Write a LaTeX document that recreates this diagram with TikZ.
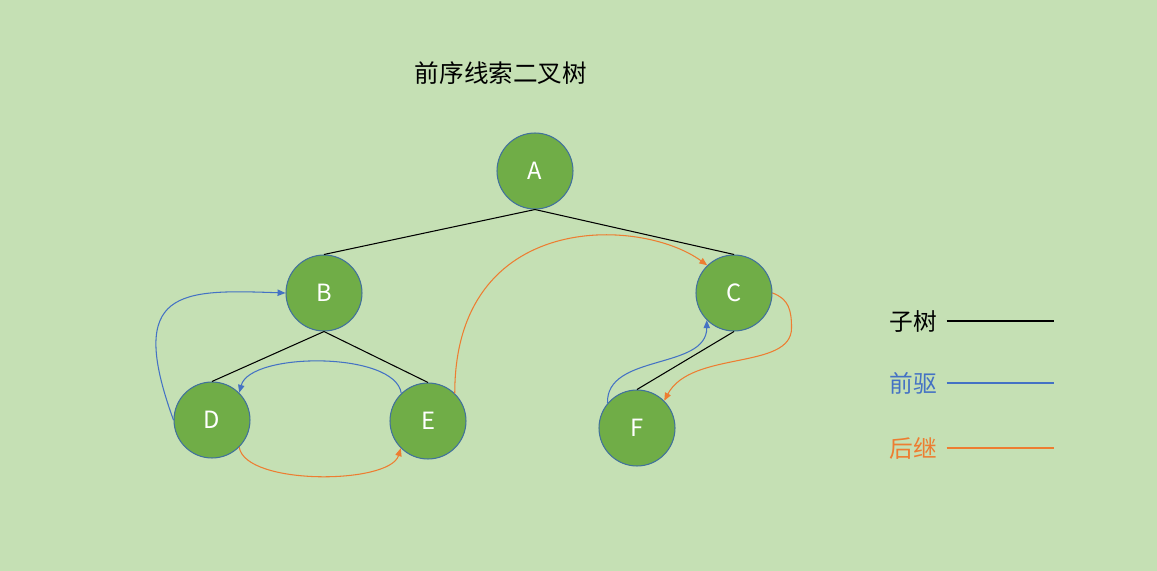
\documentclass[tikz,border=0pt]{standalone}
\usepackage{fontspec}
\newfontfamily\cjk{Noto Sans CJK SC}
\usepackage{xcolor}
\usepackage{tikz}
\usetikzlibrary{arrows.meta}
\definecolor{bggreen}{HTML}{C5E0B4}
\definecolor{nodegreen}{HTML}{70AD47}
\definecolor{nodeedge}{HTML}{41719C}
\definecolor{predblue}{HTML}{4472C4}
\definecolor{succorange}{HTML}{ED7D31}
\tikzset{
    treenode/.style={circle, draw=nodeedge, line width=0.6pt, fill=nodegreen, minimum size=1.52cm, inner sep=0pt, text=white, font=\cjk\fontsize{13.5}{16}\selectfont},
    subtree/.style={draw=black, line width=0.6pt},
    pred/.style={draw=predblue, line width=0.6pt, -{Triangle[length=4.5pt,width=3.6pt]}},
    succ/.style={draw=succorange, line width=0.6pt, -{Triangle[length=4.5pt,width=3.6pt]}},
    legendtext/.style={font=\cjk\fontsize{13.5}{16}\selectfont, inner xsep=5.5pt},
}

\begin{document}
\begin{tikzpicture}[x=0.02cm, y=-0.02cm]
    \fill[bggreen] (0,0) rectangle (1157,571);
    \useasboundingbox (0,0) rectangle (1157,571);

    \node[font=\cjk\fontsize{14}{17}\selectfont] (title) at (501,73) {前序线索二叉树};

    % tree
    \node[treenode] (A) at (535,171) {A};
    \node[treenode] (B) at (324,293) {B};
    \node[treenode] (C) at (734,293) {C};
    \node[treenode] (D) at (212,420) {D};
    \node[treenode] (E) at (428,421) {E};
    \node[treenode] (F) at (637,428) {F};

    \draw[subtree] (A.south) -- (B.north);
    \draw[subtree] (A.south) -- (C.north);
    \draw[subtree] (B.south) -- (D.north);
    \draw[subtree] (B.south) -- (E.north);
    \draw[subtree] (C.south) -- (F.north);

    % threads
    \draw[pred] (D.west) to[out=110, in=178, out distance=2.8cm, in distance=2.1cm] (B.west);
    \draw[pred] (E.134) to[out=98, in=75, out distance=0.85cm, in distance=0.85cm] (D.45);
    \draw[pred] (F.140) to[out=92, in=270, out distance=1cm, in distance=1cm] (C.225);

    \draw[succ] (D.-45) to[out=279, in=253, out distance=0.78cm, in distance=0.76cm] (E.225);
    \draw[succ] (E.46) to[out=90, in=144, out distance=3.66cm, in distance=1.66cm] (C.134);
    \draw[succ] (C.east) to[out=-20, in=90, out distance=0.35cm, in distance=0.35cm] ++(19,35)
        to[out=270, in=62, out distance=0.85cm, in distance=1.15cm] (F.45);

    % legend
    \node[legendtext] (legtree) at (913,321) {子树};
    \node[legendtext, text=predblue] (legpred) at (913,383) {前驱};
    \node[legendtext, text=succorange] (legsucc) at (913,448) {后继};
    \draw[subtree] (legtree.east) -- ++(107,0);
    \draw[draw=predblue, line width=0.6pt] (legpred.east) -- ++(107,0);
    \draw[draw=succorange, line width=0.6pt] (legsucc.east) -- ++(107,0);
\end{tikzpicture}
\end{document}
